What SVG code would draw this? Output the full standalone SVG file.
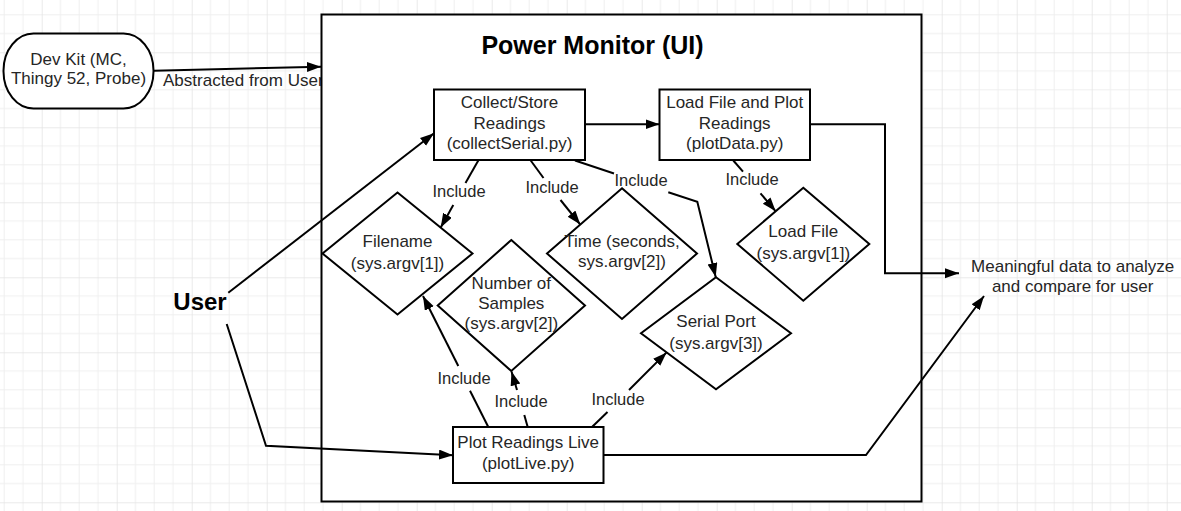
<svg xmlns="http://www.w3.org/2000/svg" width="1181" height="511" viewBox="0 0 1181 511">
  <defs>
    <pattern id="grid" patternUnits="userSpaceOnUse" x="41.7" y="52.3" width="75" height="75">
      <rect width="75" height="75" fill="#ffffff"/>
      <g fill="#efefef">
        <rect x="18.25" y="0" width="1" height="75"/>
        <rect x="37" y="0" width="1" height="75"/>
        <rect x="55.75" y="0" width="1" height="75"/>
        <rect x="0" y="18.25" width="75" height="1"/>
        <rect x="0" y="37" width="75" height="1"/>
        <rect x="0" y="55.75" width="75" height="1"/>
      </g>
      <g fill="#e2e2e2">
        <rect x="-0.5" y="0" width="1.2" height="75"/>
        <rect x="0" y="-0.5" width="75" height="1.2"/>
      </g>
    </pattern>
    <marker id="arr" markerUnits="userSpaceOnUse" markerWidth="16" markerHeight="12" refX="14" refY="5" orient="auto">
      <path d="M0,0 L14,5 L0,10 z" fill="#000"/>
    </marker>
  </defs>
  <style>
    .t { font-family: "Liberation Sans", Arial, sans-serif; font-size: 17px; fill: #262626; text-anchor: middle; }
    .inc { font-size: 16.5px; }
    .b { font-family: "Liberation Sans", Arial, sans-serif; font-weight: bold; fill: #000; text-anchor: middle; }
    .shape { fill: #fff; stroke: #000; stroke-width: 2; }
    .ln { fill: none; stroke: #000; stroke-width: 2; }
    .ar { fill: none; stroke: #000; stroke-width: 2; marker-end: url(#arr); }
  </style>

  <rect x="0" y="0" width="1181" height="511" fill="url(#grid)"/>

  <!-- label under Dev Kit arrow (partly covered by main box) -->
  <text class="t" x="163" y="85.5" style="text-anchor:start">Abstracted from User</text>

  <g id="power-monitor">
    <rect class="shape" x="321.5" y="14.5" width="600" height="487"/>
    <text class="b" x="592.5" y="54" font-size="25">Power Monitor (UI)</text>
  </g>

  <g id="devkit">
    <rect class="shape" x="3.5" y="33.5" width="150" height="75" rx="30" ry="37"/>
    <text class="t" x="78.5" y="64.5">Dev Kit (MC,</text>
    <text class="t" x="78.5" y="84">Thingy 52, Probe)</text>
  </g>

  <g id="user">
    <text class="b" x="200" y="309.5" font-size="24">User</text>
  </g>

  <g id="collect">
    <rect class="shape" x="434" y="89.5" width="151" height="70.5"/>
    <text class="t" x="509.5" y="108">Collect/Store</text>
    <text class="t" x="509.5" y="128.5">Readings</text>
    <text class="t" x="509.5" y="148.5">(collectSerial.py)</text>
  </g>

  <g id="loadplot">
    <rect class="shape" x="659.5" y="89.5" width="150.5" height="70.5"/>
    <text class="t" x="734.7" y="108">Load File and Plot</text>
    <text class="t" x="734.7" y="128.5">Readings</text>
    <text class="t" x="734.7" y="148.5">(plotData.py)</text>
  </g>

  <g id="plotlive">
    <rect class="shape" x="453" y="427" width="150.5" height="56"/>
    <text class="t" x="528.2" y="448">Plot Readings Live</text>
    <text class="t" x="528.2" y="468.5">(plotLive.py)</text>
  </g>

  <g id="filename">
    <polygon class="shape" points="397.5,192.5 472.5,253.5 397.5,314.5 322.5,253.5"/>
    <text class="t" x="397.5" y="247">Filename</text>
    <text class="t" x="397.5" y="268.5">(sys.argv[1])</text>
  </g>

  <g id="samples">
    <polygon class="shape" points="511.3,240 585,305.5 511.3,371 437.7,305.5"/>
    <text class="t" x="511.3" y="288.5">Number of</text>
    <text class="t" x="511.3" y="308.5">Samples</text>
    <text class="t" x="511.3" y="328.5">(sys.argv[2])</text>
  </g>

  <g id="time">
    <polygon class="shape" points="622,188.3 697,253.5 622,319 547,253.5"/>
    <text class="t" x="622" y="247">Time (seconds,</text>
    <text class="t" x="622" y="267">sys.argv[2])</text>
  </g>

  <g id="serial">
    <polygon class="shape" points="716,277.3 791,333.3 716,389.3 641,333.3"/>
    <text class="t" x="716" y="326.5">Serial Port</text>
    <text class="t" x="716" y="348.5">(sys.argv[3])</text>
  </g>

  <g id="loadfile">
    <polygon class="shape" points="803.3,187.7 869.3,244 803.3,300.7 737.3,244"/>
    <text class="t" x="803.3" y="237">Load File</text>
    <text class="t" x="803.3" y="258.5">(sys.argv[1])</text>
  </g>

  <g id="output">
    <text class="t" x="1072.7" y="271.5">Meaningful data to analyze</text>
    <text class="t" x="1072.7" y="291.5">and compare for user</text>
  </g>

  <g id="connectors">
    <path class="ar" d="M154,70.7 L321,66.7"/>
    <path class="ar" d="M228.3,292.7 L434,133.3"/>
    <path class="ar" d="M226.7,324 L266,445.7 L453,455.3"/>
    <path class="ar" d="M585,124.3 L659.5,124.3"/>
    <path class="ar" d="M810,124.3 L885,124.3 L885,273.3 L959,273.3"/>
    <path class="ar" d="M603.5,455 L866,455 L984,296"/>

    <!-- Include connectors -->
    <path class="ln" d="M478.3,160.5 L465.5,183"/>
    <path class="ar" d="M453.3,205 L440.7,227.5"/>
    <text class="t inc" x="459" y="197">Include</text>

    <path class="ln" d="M530.7,160.5 L543.5,178"/>
    <path class="ar" d="M560.5,200 L580.3,224.6"/>
    <text class="t inc" x="552" y="192.5">Include</text>

    <path class="ln" d="M575,160.5 L614,173.5"/>
    <path class="ar" d="M668.3,192.3 L697.3,201.7 L715.7,277"/>
    <text class="t inc" x="641" y="186">Include</text>

    <path class="ln" d="M733.3,160.5 L743,171.7"/>
    <path class="ar" d="M760.5,193.3 L775.7,211.3"/>
    <text class="t inc" x="752" y="185">Include</text>

    <path class="ln" d="M488.3,427 L470,390.7"/>
    <path class="ar" d="M458.3,366 L423,296"/>
    <text class="t inc" x="464" y="383.5">Include</text>

    <path class="ln" d="M527.7,427 L524.3,415"/>
    <path class="ar" d="M517,390 L511.5,371.5"/>
    <text class="t inc" x="521" y="406.7">Include</text>

    <path class="ln" d="M592,427 L607.5,412"/>
    <path class="ar" d="M629,390 L666.6,352.4"/>
    <text class="t inc" x="618" y="405">Include</text>
  </g>
</svg>
